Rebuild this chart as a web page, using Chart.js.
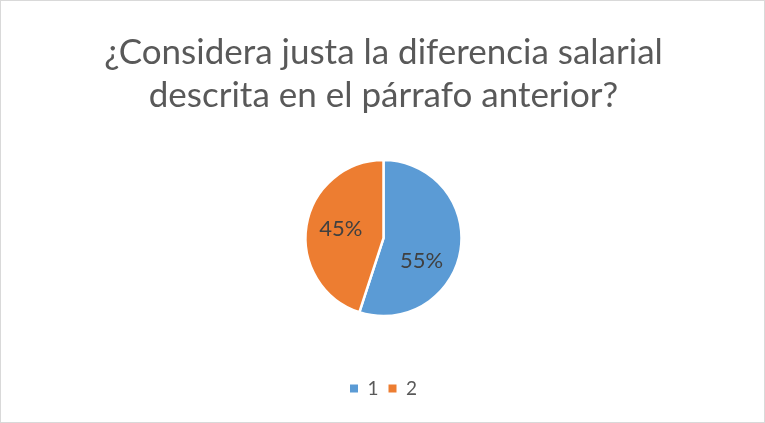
<!DOCTYPE html>
<html>
<head>
<meta charset="utf-8">
<script src="https://cdn.jsdelivr.net/npm/chart.js@4.4.0/dist/chart.umd.min.js"></script>
<style>
html,body{margin:0;padding:0;background:#fff;}
#wrap{position:relative;width:765px;height:423px;box-sizing:border-box;border:1px solid #D9D9D9;background:#fff;}
canvas{display:block;}
</style>
</head>
<body>
<div id="wrap"><canvas id="c"></canvas></div>
<script>
const titleLines = ["¿Considera justa la diferencia salarial", "descrita en el párrafo anterior?"];
const categories = ["1", "2"];
const values = [55, 45];
const colors = ["#5B9BD5", "#ED7D31"];
const labelAngleShift = [0.39, 0.05];
const labelRadiusFrac = [0.57, 0.56];

const pctLabels = {
  id: 'pctLabels',
  afterDatasetsDraw(chart) {
    const ctx = chart.ctx;
    const meta = chart.getDatasetMeta(0);
    const total = values.reduce((a, b) => a + b, 0);
    ctx.save();
    ctx.font = '22px Lato, "Open Sans", sans-serif';
    ctx.fillStyle = '#404040';
    ctx.textAlign = 'center';
    ctx.textBaseline = 'middle';
    meta.data.forEach((arc, i) => {
      const p = arc.getProps(['x', 'y', 'startAngle', 'endAngle', 'outerRadius'], true);
      const a = (p.startAngle + p.endAngle) / 2 + labelAngleShift[i];
      const r = p.outerRadius * labelRadiusFrac[i];
      const txt = Math.round(values[i] / total * 100) + '%';
      ctx.fillText(txt, p.x + Math.cos(a) * r, p.y + Math.sin(a) * r);
    });
    ctx.restore();
  }
};

new Chart(document.getElementById('c'), {
  type: 'pie',
  data: {
    labels: categories,
    datasets: [{
      data: values,
      backgroundColor: colors,
      borderColor: '#FFFFFF',
      borderWidth: 2.5,
      radius: 78
    }]
  },
  options: {
    responsive: true,
    maintainAspectRatio: false,
    animation: false,
    layout: { padding: { top: 0, bottom: 14, left: 2, right: 0 } },
    plugins: {
      tooltip: { enabled: false },
      title: {
        display: true,
        text: titleLines,
        color: '#595959',
        font: { family: 'Lato, "Open Sans", sans-serif', size: 35, weight: 'normal', lineHeight: 1.23 },
        padding: { top: 30, bottom: -10 }
      },
      legend: {
        position: 'bottom',
        labels: {
          color: '#595959',
          font: { family: 'Lato, "Open Sans", sans-serif', size: 19 },
          boxWidth: 8,
          boxHeight: 8,
          padding: 10,
          generateLabels(chart) {
            return categories.map((c, i) => ({
              text: c, fillStyle: colors[i], strokeStyle: colors[i], lineWidth: 0, index: i, hidden: false, fontColor: '#595959'
            }));
          }
        },
        onClick: null
      }
    }
  },
  plugins: [pctLabels]
});
</script>
</body>
</html>
